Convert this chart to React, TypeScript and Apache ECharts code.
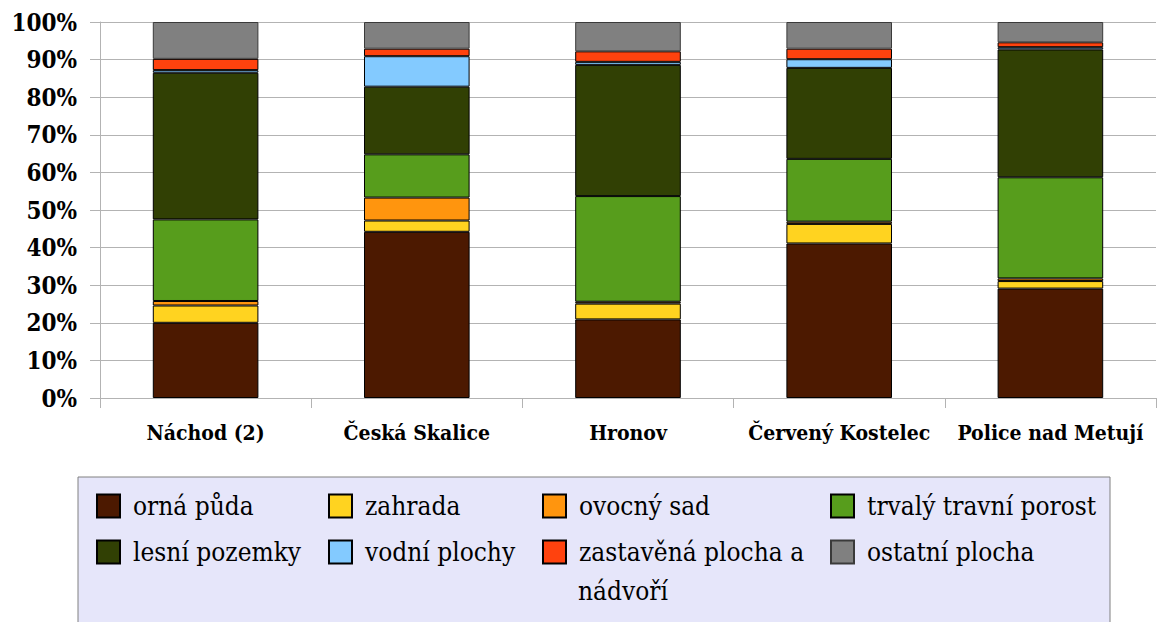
import React, { useEffect, useRef } from "react";
import * as echarts from "echarts";

const categories = ["Náchod (2)", "Česká Skalice", "Hronov", "Červený Kostelec", "Police nad Metují"];
const yTicks = [0, 100, 10];

const seriesNames = [
  "orná půda",
  "zahrada",
  "ovocný sad",
  "trvalý travní porost",
  "lesní pozemky",
  "vodní plochy",
  "zastavěná plocha a nádvoří",
  "ostatní plocha",
];
const seriesColors = ["#4C1900", "#FFD320", "#FF950E", "#579D1C", "#314004", "#83CAFF", "#FF420E", "#808080"];

const ornaPuda = [20.0, 44.2, 20.9, 41.1, 29.1];
const zahrada = [4.6, 3.0, 4.2, 5.2, 2.0];
const ovocnySad = [1.2, 6.1, 0.5, 0.6, 0.7];
const trvalyTravniPorost = [21.7, 11.5, 28.1, 16.7, 26.9];
const lesniPozemky = [39.0, 18.0, 34.9, 24.2, 34.0];
const vodniPlochy = [0.7, 8.1, 0.8, 2.3, 0.6];
const zastavenaPlocha = [3.0, 2.0, 2.8, 2.8, 1.3];
const ostatniPlocha = [9.8, 7.1, 7.8, 7.1, 5.4];

const seriesValues = [ornaPuda, zahrada, ovocnySad, trvalyTravniPorost, lesniPozemky, vodniPlochy, zastavenaPlocha, ostatniPlocha];

// legend layout: [left of icon, center y]
const legendPos: [number, number][] = [
  [96, 506],
  [328, 506],
  [542, 506],
  [830, 506],
  [96, 552],
  [328, 552],
  [542, 552],
  [830, 552],
];

const SERIF = "DejaVu Serif Condensed";

export default function App() {
  const ref = useRef<HTMLDivElement>(null);
  useEffect(() => {
    if (!ref.current) return;
    const chart = echarts.init(ref.current, undefined, { renderer: "svg" });
    const legends = seriesNames.map((name, i) => ({
      data: [name],
      left: legendPos[i][0],
      top: legendPos[i][1] - 17,
      padding: 0,
      itemWidth: 23,
      itemHeight: 23,
      icon: "rect",
      selectedMode: false,
      formatter: (n: string) => (n === "zastavěná plocha a nádvoří" ? "zastavěná plocha a" : n),
      textStyle: {
        fontFamily: SERIF,
        fontSize: 26,
        lineHeight: 34,
        color: "#000",
        padding: [0, 0, 0, 8],
      },
    }));
    chart.setOption({
      animation: false,
      textStyle: { fontFamily: SERIF },
      grid: { left: 100, right: 2, top: 22, bottom: 224, containLabel: false },
      graphic: [
        {
          type: "rect",
          z: 0,
          shape: { x: 78, y: 477, width: 1032, height: 160 },
          style: { fill: "#E6E6FA", stroke: "#808080", lineWidth: 1 },
        },
        {
          type: "text",
          z: 5,
          x: 542 + 23 + 5 + 8,
          y: 591,
          style: {
            text: "nádvoří",
            fontFamily: SERIF,
            fontSize: 26,
            fill: "#000",
            verticalAlign: "middle",
            align: "left",
          },
        },
      ],
      legend: legends,
      xAxis: {
        type: "category",
        data: categories,
        axisLine: { lineStyle: { color: "#b3b3b3", width: 1 } },
        axisTick: { show: true, length: 10, lineStyle: { color: "#b3b3b3" } },
        axisLabel: {
          fontFamily: SERIF,
          fontWeight: "bold",
          fontSize: 21,
          color: "#000",
          margin: 24,
          interval: 0,
        },
      },
      yAxis: {
        type: "value",
        min: yTicks[0],
        max: yTicks[1],
        interval: yTicks[2],
        axisLine: { show: true, lineStyle: { color: "#b3b3b3", width: 1 } },
        axisTick: { show: true, length: 10, lineStyle: { color: "#b3b3b3" } },
        splitLine: { lineStyle: { color: "#b3b3b3", width: 1 } },
        axisLabel: {
          formatter: "{value}%",
          fontFamily: SERIF,
          fontWeight: "bold",
          fontSize: 24,
          color: "#000",
          margin: 23,
        },
      },
      series: seriesNames.map((name, i) => ({
        name,
        type: "bar",
        stack: "total",
        barWidth: "50%",
        data: seriesValues[i],
        itemStyle: {
          color: seriesColors[i],
          borderColor: i === 7 ? "#3a3a3a" : "#000",
          borderWidth: 1,
        },
      })),
    });
    return () => chart.dispose();
  }, []);
  return (
    <div
      ref={ref}
      style={{ position: "fixed", left: 0, top: 0, width: 1158, height: 622, background: "#fff" }}
    />
  );
}
